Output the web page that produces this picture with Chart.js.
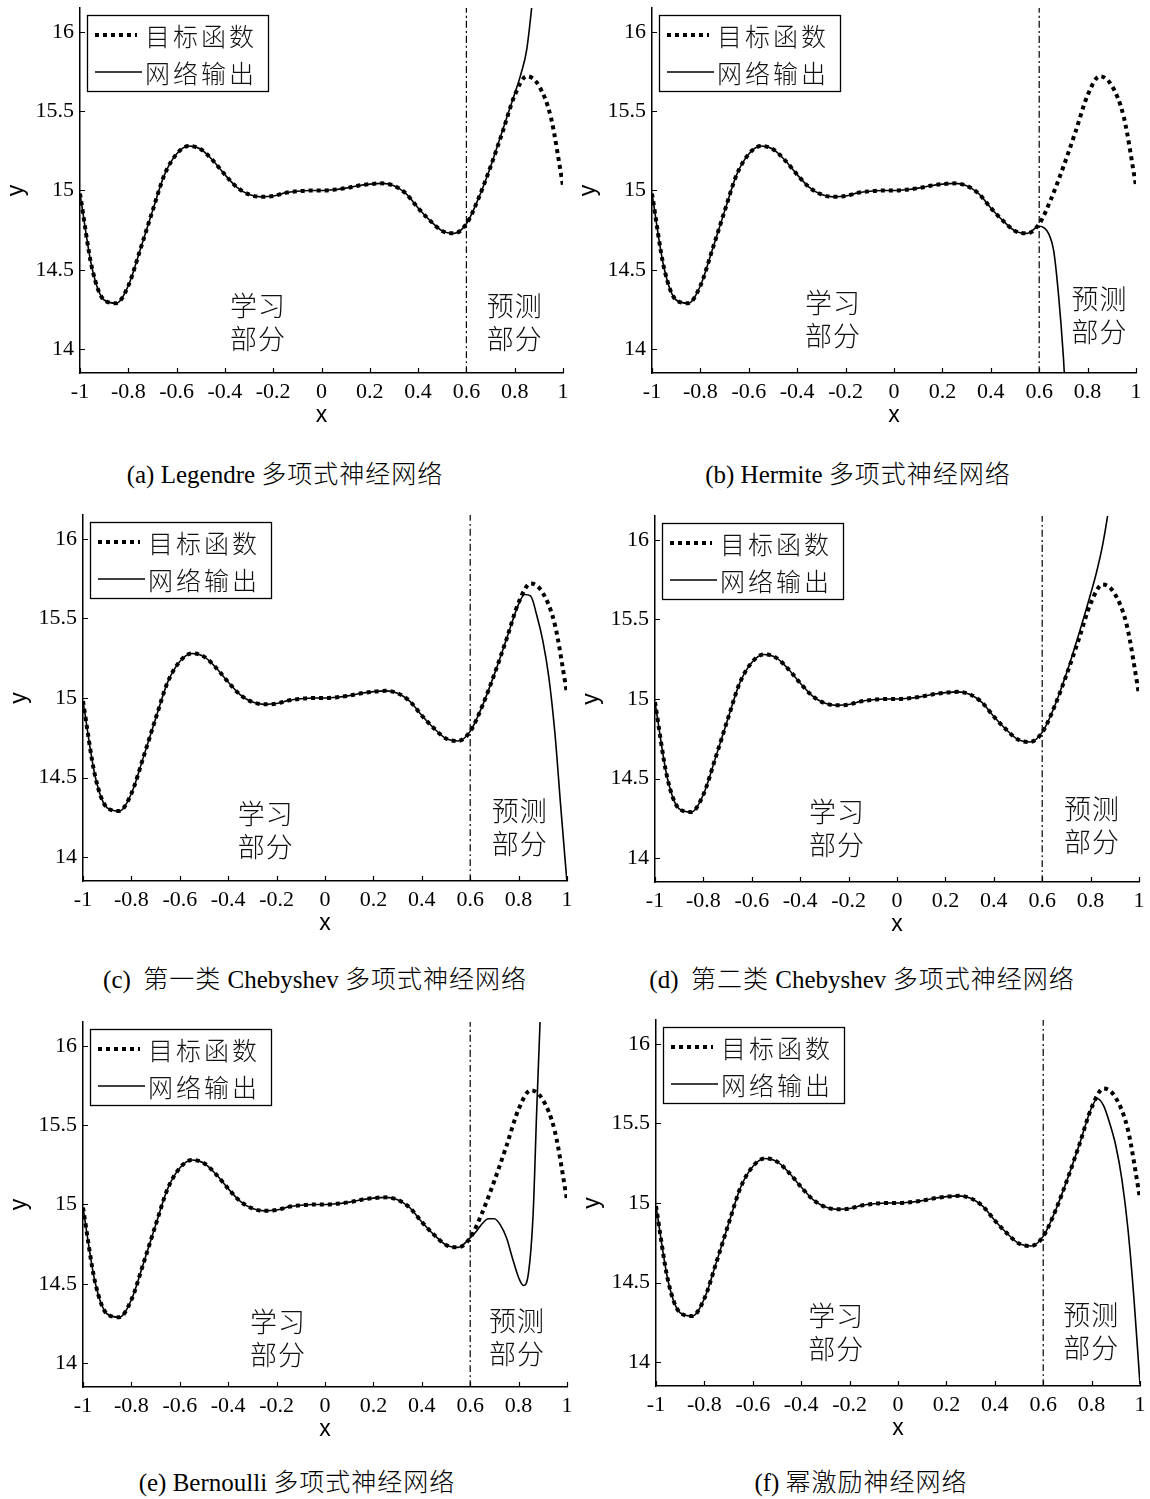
<!DOCTYPE html>
<html>
<head>
<meta charset="utf-8">
<script src="https://cdn.jsdelivr.net/npm/chart.js@4.4.1/dist/chart.umd.min.js"></script>
<style>
body { margin: 0; background: #fff; width: 1150px; height: 1499px; position: relative; overflow: hidden; }
canvas { position: absolute; }
.cap { position: absolute; white-space: pre; font: 25px "Liberation Serif", "Noto Sans CJK SC"; color: #000; transform: translate(-50%, -50%); }
.cap span { font-family: "Noto Sans CJK SC"; font-weight: 300; font-size: 25px; letter-spacing: 1px; }
</style>
</head>
<body>
<script>
// x grid for the target function, read every 0.05
const xs = [-1, -0.95, -0.9, -0.85, -0.8, -0.75, -0.7, -0.65, -0.6, -0.55, -0.5, -0.45, -0.4, -0.35, -0.3, -0.25, -0.2, -0.15, -0.1, -0.05,
  0, 0.05, 0.1, 0.15, 0.2, 0.25, 0.3, 0.35, 0.4, 0.45, 0.5, 0.55, 0.6, 0.65, 0.7, 0.75, 0.8, 0.85, 0.9, 0.95, 1];
const target = [14.98, 14.51, 14.31, 14.29, 14.40, 14.63, 14.87, 15.10, 15.23, 15.28, 15.26, 15.19, 15.10, 15.02, 14.975, 14.96, 14.965, 14.985, 14.995, 15.00,
  15.00, 15.005, 15.015, 15.03, 15.04, 15.045, 15.03, 14.98, 14.89, 14.81, 14.745, 14.73, 14.79, 14.95, 15.15, 15.37, 15.60, 15.72, 15.66, 15.46, 15.03];

const xTicks = [-1, -0.8, -0.6, -0.4, -0.2, 0, 0.2, 0.4, 0.6, 0.8, 1];
const yTicks = [14, 14.5, 15, 15.5, 16];
const yMin = 13.85, yMax = 16.15;
const splitX = 0.6;
const legendLabels = ['目标函数', '网络输出'];

// network output in the prediction part (x >= 0.6), one pair per panel
const predAx = [0.6, 0.65, 0.7, 0.75, 0.8, 0.825, 0.85, 0.875, 0.9];
const predAy = [14.79, 14.95, 15.15, 15.38, 15.61, 15.73, 15.89, 16.22, 16.6];
const predBx = [0.6, 0.62, 0.64, 0.66, 0.68, 0.7, 0.72];
const predBy = [14.775, 14.765, 14.725, 14.62, 14.34, 13.95, 13.4];
const predCx = [0.6, 0.65, 0.7, 0.75, 0.8, 0.825, 0.85, 0.875, 0.9, 0.925, 0.95, 0.975, 1];
const predCy = [14.79, 14.95, 15.15, 15.37, 15.59, 15.65, 15.64, 15.52, 15.36, 15.13, 14.78, 14.30, 13.84];
const predDx = [0.6, 0.65, 0.7, 0.75, 0.8, 0.825, 0.85, 0.875, 0.9];
const predDy = [14.79, 14.95, 15.16, 15.40, 15.66, 15.80, 15.97, 16.2, 16.5];
const predEx = [0.6, 0.625, 0.65, 0.675, 0.7, 0.725, 0.75, 0.775, 0.8, 0.82, 0.84, 0.86, 0.875, 0.89, 0.9];
const predEy = [14.79, 14.83, 14.88, 14.91, 14.91, 14.87, 14.79, 14.66, 14.54, 14.49, 14.56, 14.94, 15.60, 16.2, 16.6];
const predFx = [0.6, 0.65, 0.7, 0.75, 0.8, 0.825, 0.85, 0.875, 0.9, 0.925, 0.95, 0.975, 1];
const predFy = [14.79, 14.95, 15.15, 15.37, 15.60, 15.655, 15.61, 15.50, 15.36, 15.15, 14.84, 14.40, 13.86];

const panels = [
  { l: 80, r: 563, t: 8, b: 373, px: predAx, py: predAy, learn: [-0.263, 14.276], pred: [0.80, 14.276], cap: '(a) Legendre 多项式神经网络', cx: 285, cy: 472 },
  { l: 652, r: 1136, t: 8, b: 373, px: predBx, py: predBy, learn: [-0.252, 14.295], pred: [0.849, 14.32], cap: '(b) Hermite 多项式神经网络', cx: 858, cy: 472 },
  { l: 83, r: 567, t: 515, b: 881, px: predCx, py: predCy, learn: [-0.245, 14.27], pred: [0.805, 14.29], cap: '(c)  第一类 Chebyshev 多项式神经网络', cx: 315, cy: 977 },
  { l: 655, r: 1139, t: 516, b: 882, px: predDx, py: predDy, learn: [-0.248, 14.29], pred: [0.806, 14.31], cap: '(d)  第二类 Chebyshev 多项式神经网络', cx: 862, cy: 977 },
  { l: 83, r: 567, t: 1022, b: 1387, px: predEx, py: predEy, learn: [-0.194, 14.26], pred: [0.793, 14.27], cap: '(e) Bernoulli 多项式神经网络', cx: 297, cy: 1480 },
  { l: 656, r: 1140, t: 1020, b: 1386, px: predFx, py: predFy, learn: [-0.255, 14.29], pred: [0.799, 14.30], cap: '(f) 幂激励神经网络', cx: 861, cy: 1480 }
];

const cjk = '"Noto Sans CJK SC"';

// inward ticks, region labels and the boxed legend
const decor = {
  id: 'decor',
  afterDatasetsDraw(chart, args, opts) {
    const { ctx, chartArea: a, scales: { x, y } } = chart;
    ctx.save();
    ctx.strokeStyle = '#000';
    ctx.lineWidth = 1.2;
    ctx.beginPath();
    xTicks.forEach(v => {
      const p = Math.round(x.getPixelForValue(v)) + 0.5;
      ctx.moveTo(p, a.bottom); ctx.lineTo(p, a.bottom - 5);
    });
    yTicks.forEach(v => {
      const p = Math.round(y.getPixelForValue(v)) + 0.5;
      ctx.moveTo(a.left, p); ctx.lineTo(a.left + 5, p);
    });
    ctx.stroke();

    ctx.fillStyle = '#111';
    ctx.font = '300 27px ' + cjk;
    ctx.textAlign = 'center';
    ctx.textBaseline = 'middle';
    ctx.letterSpacing = '1px';
    [[opts.learn, '学习'], [opts.pred, '预测']].forEach(([pos, word]) => {
      const tx = x.getPixelForValue(pos[0]);
      const ty = y.getPixelForValue(pos[1]);
      ctx.fillText(word, tx, ty);
      ctx.fillText('部分', tx, ty + 33);
    });

    const bx = Math.round(a.left) + 7, by = Math.round(a.top) + 7, bw = 181, bh = 76;
    ctx.fillStyle = '#fff';
    ctx.fillRect(bx, by, bw, bh);
    ctx.lineWidth = 1.3;
    ctx.strokeRect(bx + 0.5, by + 0.5, bw, bh);
    const ds = chart.data.datasets;
    ctx.beginPath();
    ctx.setLineDash(ds[1].borderDash);
    ctx.lineWidth = ds[1].borderWidth;
    ctx.moveTo(bx + 8, by + 20); ctx.lineTo(bx + 50, by + 20);
    ctx.stroke();
    ctx.beginPath();
    ctx.setLineDash([]);
    ctx.lineWidth = ds[0].borderWidth;
    ctx.moveTo(bx + 8, by + 57); ctx.lineTo(bx + 55, by + 57);
    ctx.stroke();
    ctx.fillStyle = '#111';
    ctx.font = '300 25px ' + cjk;
    ctx.textAlign = 'left';
    ctx.letterSpacing = '3px';
    ctx.fillText(ds[1].label, bx + 58, by + 21);
    ctx.fillText(ds[0].label, bx + 58, by + 58);
    ctx.restore();
  }
};

function netPoints(px, py) {
  const pts = [];
  xs.forEach((v, i) => { if (v < splitX) pts.push({ x: v, y: target[i] }); });
  px.forEach((v, i) => pts.push({ x: v, y: py[i] }));
  return pts;
}

const fixPad = s => { s.paddingTop = 0; s.paddingBottom = 0; s.paddingLeft = 0; s.paddingRight = 0; };
const tickFont = { family: 'Liberation Serif', size: 22 };
const titleFont = { family: 'Liberation Sans', size: 23 };

panels.forEach(p => {
  const cv = document.createElement('canvas');
  const w = p.r - p.l + 80 + 8, h = p.b - p.t + 6 + 60;
  cv.width = w; cv.height = h;
  cv.style.left = (p.l - 80) + 'px';
  cv.style.top = (p.t - 6) + 'px';
  document.body.appendChild(cv);

  new Chart(cv, {
    type: 'line',
    data: {
      datasets: [
        { label: legendLabels[1], data: netPoints(p.px, p.py), borderColor: '#000', borderWidth: 1.6, fill: false },
        { label: legendLabels[0], data: xs.map((v, i) => ({ x: v, y: target[i] })), borderColor: '#000', borderWidth: 4, borderDash: [4, 4], fill: false },
        { label: 'split', data: [{ x: splitX, y: yMin }, { x: splitX, y: yMax }], borderColor: '#000', borderWidth: 1.2, borderDash: [7, 3, 2, 3], tension: 0, fill: false }
      ]
    },
    options: {
      responsive: false,
      animation: false,
      devicePixelRatio: 1,
      layout: { padding: { top: 6, right: 8, left: 0, bottom: 0 } },
      elements: { point: { radius: 0 }, line: { cubicInterpolationMode: 'monotone', capBezierPoints: false } },
      plugins: { legend: { display: false }, tooltip: { enabled: false }, decor: { learn: p.learn, pred: p.pred } },
      scales: {
        x: {
          type: 'linear', min: -1, max: 1,
          afterBuildTicks: s => { s.ticks = xTicks.map(v => ({ value: v })); },
          afterFit: s => { s.height = 60; fixPad(s); },
          grid: { display: false, drawTicks: false },
          border: { display: true, color: '#000', width: 1.5 },
          ticks: { color: '#000', font: tickFont, padding: 6, maxRotation: 0, autoSkip: false, callback: v => String(v) },
          title: { display: true, text: 'x', color: '#000', font: titleFont, padding: { top: 0, bottom: 4 } }
        },
        y: {
          type: 'linear', min: yMin, max: yMax,
          afterBuildTicks: s => { s.ticks = yTicks.map(v => ({ value: v })); },
          afterFit: s => { s.width = 80; fixPad(s); },
          grid: { display: false, drawTicks: false },
          border: { display: true, color: '#000', width: 1.5 },
          ticks: { color: '#000', font: tickFont, padding: 6, autoSkip: false, callback: v => String(v) },
          title: { display: true, text: 'y', color: '#000', font: titleFont, padding: { top: 3, bottom: 0 } }
        }
      }
    },
    plugins: [decor]
  });

  const c = document.createElement('div');
  c.className = 'cap';
  p.cap.split(/([\u4e00-\u9fff]+)/).forEach((part, i) => {
    if (!part) return;
    if (i % 2 === 1) {
      const s = document.createElement('span');
      s.textContent = part;
      c.appendChild(s);
    } else {
      c.appendChild(document.createTextNode(part));
    }
  });
  c.style.left = p.cx + 'px';
  c.style.top = p.cy + 'px';
  document.body.appendChild(c);
});
</script>
</body>
</html>
